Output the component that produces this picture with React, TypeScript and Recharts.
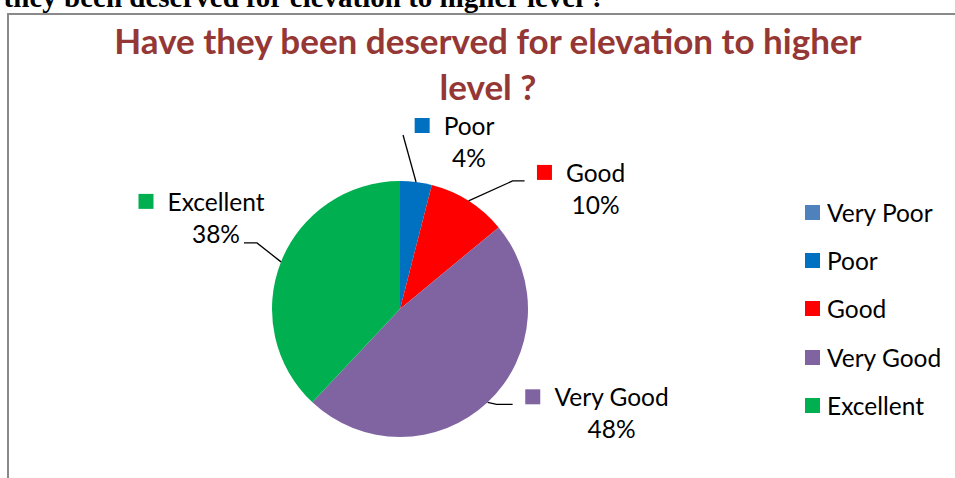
import React from 'react';
import { PieChart, Pie, Cell, Legend } from 'recharts';

const categories = ['Very Poor', 'Poor', 'Good', 'Very Good', 'Excellent'];
const shares = [0, 4, 10, 48, 38];
const COLORS = ['#4F81BD', '#0070C0', '#FF0000', '#8064A2', '#00B050'];

const data = categories.map((name, i) => ({ name, value: shares[i] }));

const FONT = 'Lato, "Noto Sans", sans-serif';
const LABEL_SIZE = 24.5;
const RAD = Math.PI / 180;

// label text centre, relative to the rim point in the middle of the slice
const LABEL_NUDGE: Record<string, [number, number]> = {
  Poor: [53, -47],
  Good: [127, -19],
  'Very Good': [124, 4],
  Excellent: [-65, -51],
};

// leader line points after the rim point (same relative frame)
const LEADERS: Record<string, [number, number][]> = {
  Poor: [[-13, -47]],
  Good: [[44, -20], [56, -20]],
  'Very Good': [[9, 2], [25, 2]],
  Excellent: [[-24, -19], [-37, -19]],
};

let ctx: CanvasRenderingContext2D | null = null;
const textWidth = (s: string) => {
  if (!ctx) ctx = document.createElement('canvas').getContext('2d');
  if (!ctx) return s.length * LABEL_SIZE * 0.5;
  ctx.font = `${LABEL_SIZE}px Lato`;
  return ctx.measureText(s).width;
};

const renderLabel = (props: any) => {
  const { cx, cy, midAngle, outerRadius, name, percent, index } = props;
  if (!percent) return null;
  const ex = cx + outerRadius * Math.cos(-midAngle * RAD);
  const ey = cy + outerRadius * Math.sin(-midAngle * RAD);
  const [dx, dy] = LABEL_NUDGE[name];
  const tx = ex + dx;
  const ty = ey + dy;
  const w = textWidth(name);
  const pts = [[0, 0], ...LEADERS[name]].map(([a, b]) => `${ex + a},${ey + b}`).join(' ');
  return (
    <g key={`lbl-${index}`}>
      <polyline points={pts} fill="none" stroke="#000" strokeWidth={1.3} />
      <rect x={tx - w / 2 - 29} y={ty - 17} width={15} height={15} fill={COLORS[index]} />
      <text x={tx} y={ty} textAnchor="middle" fontFamily={FONT} fontSize={LABEL_SIZE} fill="#000">
        {name}
      </text>
      <text x={tx} y={ty + 32} textAnchor="middle" fontFamily={FONT} fontSize={LABEL_SIZE} fill="#000">
        {`${Math.round(percent * 100)}%`}
      </text>
    </g>
  );
};

const renderLegend = () => (
  <div style={{ fontFamily: FONT, fontSize: LABEL_SIZE, color: '#000' }}>
    {categories.map((name, i) => (
      <div key={name} style={{ display: 'flex', alignItems: 'center', height: 48.3 }}>
        <span style={{ width: 15, height: 15, background: COLORS[i], marginRight: 7, flexShrink: 0 }} />
        <span style={{ whiteSpace: 'nowrap' }}>{name}</span>
      </div>
    ))}
  </div>
);

export default function App() {
  return (
    <div style={{ position: 'absolute', left: 0, top: 0, width: 955, height: 478, overflow: 'hidden', background: '#fff' }}>
      <div
        style={{
          position: 'absolute', right: 350, top: -17, whiteSpace: 'nowrap',
          fontFamily: '"Liberation Serif", "Times New Roman", serif', fontWeight: 'bold', fontSize: 29, lineHeight: '29px',
        }}
      >
        Have they been deserved for elevation to higher level ?
      </div>
      <div style={{ position: 'absolute', left: 7, top: 13, width: 960, height: 480, border: '2px solid #8a8a8a', boxSizing: 'border-box' }} />
      <div
        style={{
          position: 'absolute', left: 0, width: 976, top: 16.5, textAlign: 'center',
          fontFamily: FONT, fontWeight: 'bold', fontSize: 35, lineHeight: '46px', color: '#953735',
        }}
      >
        Have they been deserved for elevation to higher
        <br />
        level ?
      </div>
      <div style={{ position: 'absolute', left: 0, top: 0 }}>
        <PieChart width={955} height={478} margin={{ top: 0, right: 0, bottom: 0, left: 0 }}>
          <Pie
            data={data}
            dataKey="value"
            nameKey="name"
            cx={400}
            cy={309}
            outerRadius={128}
            startAngle={90}
            endAngle={-270}
            stroke="none"
            label={renderLabel}
            labelLine={false}
            isAnimationActive={false}
          >
            {data.map((entry, i) => (
              <Cell key={`cell-${i}`} fill={COLORS[i]} />
            ))}
          </Pie>
          <Legend
            content={renderLegend}
            wrapperStyle={{ position: 'absolute', left: 805, top: 188, width: 150, height: 245 }}
          />
        </PieChart>
      </div>
    </div>
  );
}
